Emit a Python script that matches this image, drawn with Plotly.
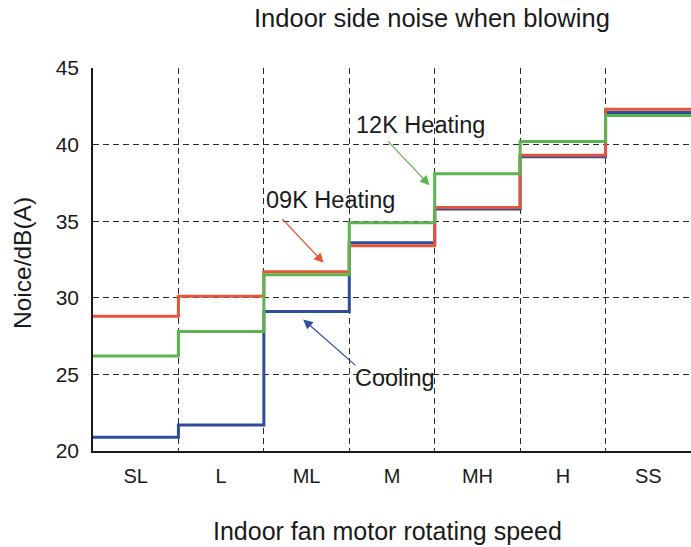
import plotly.graph_objects as go

# ---- data ----
categories = ["SL", "L", "ML", "M", "MH", "H", "SS"]
cooling = [20.9, 21.7, 29.1, 33.6, 35.8, 39.2, 42.1]
heating_09k = [28.8, 30.1, 31.7, 33.4, 35.9, 39.3, 42.3]
heating_12k = [26.2, 27.8, 31.5, 34.9, 38.1, 40.2, 41.9]
y_ticks = [20, 25, 30, 35, 40, 45]

title_text = "Indoor side noise when blowing"
x_title = "Indoor fan motor rotating speed"
y_title = "Noice/dB(A)"

FONT = "Liberation Sans, Arial, Helvetica, sans-serif"
RED = "#E6553A"
GREEN = "#5BB44E"
BLUE = "#2C4E9C"

n = len(categories)
edges = list(range(n + 1))


def step_y(vals):
    return list(vals) + [vals[-1]]


fig = go.Figure()
for name, vals, color in [
    ("Cooling", cooling, BLUE),
    ("09K Heating", heating_09k, RED),
    ("12K Heating", heating_12k, GREEN),
]:
    fig.add_trace(
        go.Scatter(
            x=edges,
            y=step_y(vals),
            mode="lines",
            line=dict(color=color, width=3, shape="hv"),
            name=name,
            showlegend=False,
            hoverinfo="skip",
        )
    )

grid_color = "#2a2a2a"
grid_dash = "6px,4px"

fig.update_layout(
    width=691,
    height=547,
    margin=dict(l=93, r=0, t=68, b=96),
    paper_bgcolor="white",
    plot_bgcolor="white",
    font=dict(family=FONT, color="#1a1a1a"),
    showlegend=False,
    xaxis=dict(
        range=[0, n],
        tickmode="array",
        tickvals=[i + 0.5 for i in range(n)],
        ticktext=categories,
        showgrid=False,
        zeroline=False,
        showline=True,
        linecolor="#1a1a1a",
        linewidth=1.5,
        ticks="",
        tickfont=dict(size=20, family=FONT, color="#1a1a1a"),
        ticklabelstandoff=6,
        minor=dict(
            tickmode="linear",
            tick0=0,
            dtick=1,
            showgrid=True,
            gridcolor=grid_color,
            griddash=grid_dash,
            gridwidth=1,
            ticks="",
        ),
    ),
    yaxis=dict(
        range=[20, 45],
        tickmode="array",
        tickvals=y_ticks,
        showgrid=True,
        gridcolor=grid_color,
        griddash=grid_dash,
        gridwidth=1,
        zeroline=False,
        showline=True,
        linecolor="#1a1a1a",
        linewidth=1.5,
        ticks="",
        tickfont=dict(size=21, family=FONT, color="#1a1a1a"),
        ticklabelstandoff=8,
    ),
)

# titles
fig.add_annotation(
    text=title_text, xref="paper", yref="paper",
    x=(432 - 93) / 598, y=1 + 50 / 383, xanchor="center", yanchor="middle",
    showarrow=False, font=dict(size=25.5, family=FONT, color="#1a1a1a"),
)
fig.add_annotation(
    text=x_title, xref="paper", yref="paper",
    x=(387 - 93) / 598, y=-(531 - 451) / 383, xanchor="center", yanchor="middle",
    showarrow=False, font=dict(size=25, family=FONT, color="#1a1a1a"),
)
fig.add_annotation(
    text=y_title, xref="paper", yref="paper",
    x=(22 - 93) / 598, y=(451 - 263) / 383, xanchor="center", yanchor="middle",
    textangle=-90, showarrow=False, font=dict(size=24.5, family=FONT, color="#1a1a1a"),
)

# series labels
label_font = dict(size=23.5, family=FONT, color="#1a1a1a")
fig.add_annotation(text="12K Heating", x=3.83, y=41.27, xref="x", yref="y",
                   showarrow=False, font=label_font)
fig.add_annotation(text="09K Heating", x=2.78, y=36.37, xref="x", yref="y",
                   showarrow=False, font=label_font)
fig.add_annotation(text="Cooling", x=3.53, y=24.76, xref="x", yref="y",
                   showarrow=False, font=label_font)

# arrows (head at x,y ; tail at ax,ay)
for (hx, hy, tx, ty, col) in [
    (3.94, 37.35, 3.44, 40.29, GREEN),
    (2.70, 32.28, 2.20, 35.24, RED),
    (2.46, 28.59, 3.09, 25.50, BLUE),
]:
    fig.add_annotation(
        x=hx, y=hy, ax=tx, ay=ty, xref="x", yref="y", axref="x", ayref="y",
        text="", showarrow=True, arrowhead=2, arrowsize=1.6, arrowwidth=1.2,
        arrowcolor=col,
    )

fig.write_html(
    "out.html",
    config={"displayModeBar": False},
    post_script="document.body.style.margin='0';document.body.style.padding='0';",
)
